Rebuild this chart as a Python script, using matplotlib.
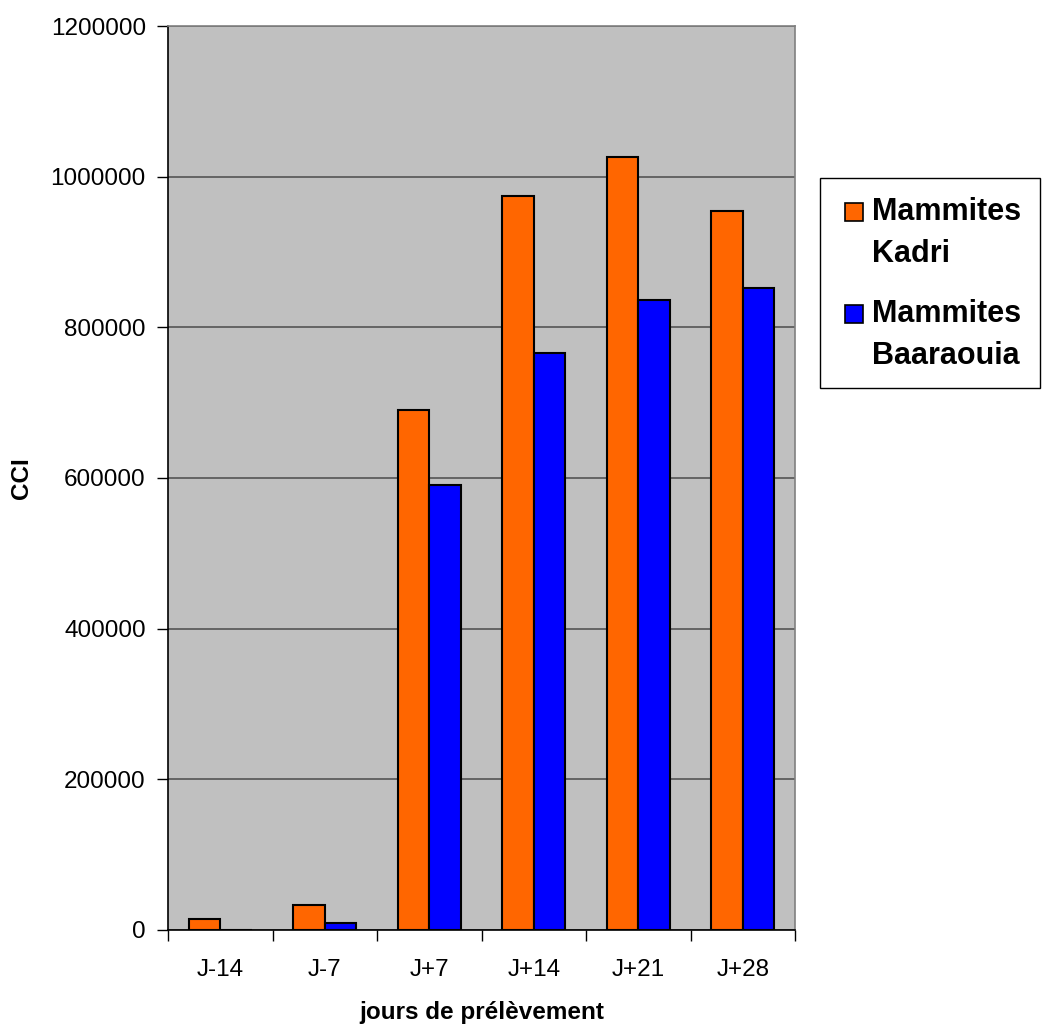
import matplotlib
matplotlib.use("Agg")
import matplotlib.pyplot as plt
from matplotlib.patches import Rectangle
import numpy as np

plt.rcParams['font.family'] = ['Liberation Sans', 'DejaVu Sans']

categories = ["J-14", "J-7", "J+7", "J+14", "J+21", "J+28"]
kadri = [15000, 33000, 690000, 975000, 1026000, 954000]
baaraouia = [0, 9000, 591000, 766000, 836000, 852000]
series_names = [["Mammites", "Kadri"], ["Mammites", "Baaraouia"]]
series_colors = ["#FF6600", "#0000FF"]
yticks = [0, 200000, 400000, 600000, 800000, 1000000, 1200000]

W, H = 1043, 1029
fig = plt.figure(figsize=(W / 100, H / 100), dpi=100)
ax = fig.add_axes([168 / W, 1 - 930 / H, 627 / W, 904 / H])
ax.set_facecolor("#C0C0C0")

x = np.arange(len(categories))
w = 0.3
ax.bar(x - w / 2, kadri, w, color=series_colors[0], edgecolor="black", linewidth=1.5, zorder=3)
ax.bar(x + w / 2, baaraouia, w, color=series_colors[1], edgecolor="black", linewidth=1.5, zorder=3)

ax.set_xlim(-0.5, len(categories) - 0.5)
ax.set_ylim(0, 1200000)
ax.set_yticks(yticks)
ax.set_yticklabels([str(v) for v in yticks], fontsize=17.5)
ax.yaxis.grid(True, color="#555555", linewidth=1.2, zorder=1)

ax.set_xticks(x)
ax.set_xticklabels(categories, fontsize=17.5)
ax.set_xticks(np.arange(-0.5, len(categories), 1.0), minor=True)
ax.tick_params(axis="x", which="major", length=0, pad=21)
ax.tick_params(axis="x", which="minor", length=8, width=1, direction="out")
ax.tick_params(axis="y", length=8, width=1, direction="out", pad=8)

for side in ["top", "right"]:
    ax.spines[side].set_color("#808080")
    ax.spines[side].set_linewidth(1.2)
for side in ["left", "bottom"]:
    ax.spines[side].set_color("black")
    ax.spines[side].set_linewidth(1.2)

ax.set_xlabel("jours de prélèvement", fontsize=17.5, fontweight="bold", labelpad=14)
ax.set_ylabel("CCI", fontsize=17.5, fontweight="bold")
ax.yaxis.set_label_coords(-0.215, 0.5)

# Legend box drawn in figure pixel coordinates
def fx(px):
    return px / W

def fy(py):
    return 1 - py / H

fig.patches.append(Rectangle((fx(820), fy(388)), fx(1040) - fx(820), fy(178) - fy(388),
                             transform=fig.transFigure, facecolor="white",
                             edgecolor="black", linewidth=1.0))
baselines = [(220, 262), (322, 364)]
for (b1, b2), color, lines in zip(baselines, series_colors, series_names):
    fig.patches.append(Rectangle((fx(845), fy(b1 + 1)), fx(863) - fx(845), fy(b1 - 17) - fy(b1 + 1),
                                 transform=fig.transFigure, facecolor=color,
                                 edgecolor="black", linewidth=1.2))
    fig.text(fx(872), fy(b1), lines[0], fontsize=22, fontweight="bold", va="baseline", ha="left")
    fig.text(fx(872), fy(b2), lines[1], fontsize=22, fontweight="bold", va="baseline", ha="left")

fig.savefig("out.png", dpi=100)
